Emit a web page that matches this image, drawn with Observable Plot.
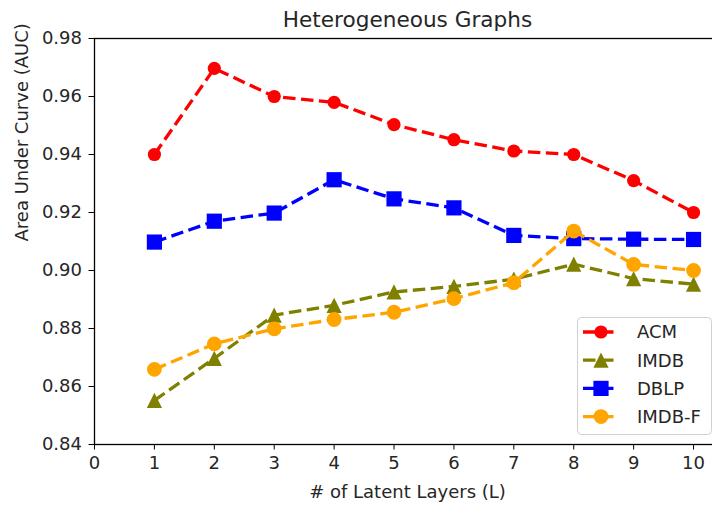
<!DOCTYPE html>
<html>
<head>
<meta charset="utf-8">
<script src="https://cdn.jsdelivr.net/npm/d3@7"></script>
<script src="https://cdn.jsdelivr.net/npm/@observablehq/plot@0.6"></script>
<style>
  html, body { margin: 0; padding: 0; overflow: hidden; background: #fff; }
  #chart { width: 720px; }
  #chart svg { display: block; max-width: none !important; width: 720px; height: 506px; }
</style>
</head>
<body>
<div id="chart"></div>
<script>
const layers = [1, 2, 3, 4, 5, 6, 7, 8, 9, 10];
const acm   = [0.940, 0.9697, 0.960, 0.958, 0.9503, 0.9451, 0.9412, 0.9400, 0.9310, 0.9200];
const imdb  = [0.8552, 0.8697, 0.8846, 0.8880, 0.8926, 0.8945, 0.8970, 0.9022, 0.8972, 0.8953];
const dblp  = [0.9098, 0.9170, 0.9198, 0.9313, 0.9247, 0.9216, 0.9121, 0.9110, 0.9108, 0.9107];
const imdbF = [0.8659, 0.8747, 0.8799, 0.8831, 0.8856, 0.8903, 0.8958, 0.9136, 0.9021, 0.9000];

const seriesNames = ["ACM", "IMDB", "DBLP", "IMDB-F"];
const seriesColors = ["#ff0000", "#808000", "#0000ff", "#ffa500"];
const xTicks = [0, 1, 2, 3, 4, 5, 6, 7, 8, 9, 10];
const yTicks = [0.84, 0.86, 0.88, 0.90, 0.92, 0.94, 0.96, 0.98];

const titleText = "Heterogeneous Graphs";
const xLabel = "# of Latent Layers (L)";
const yLabel = "Area Under Curve (AUC)";

// custom matplotlib-like symbols (half extent = r)
const triangleUp = {
  draw(ctx, size) {
    const h = Math.sqrt(size / Math.PI);
    ctx.moveTo(0, -h);
    ctx.lineTo(h, h);
    ctx.lineTo(-h, h);
    ctx.closePath();
  }
};
const squareSym = {
  draw(ctx, size) {
    const h = Math.sqrt(size / Math.PI);
    ctx.rect(-h, -h, 2 * h, 2 * h);
  }
};
const symbols = ["circle", triangleUp, squareSym, "circle"];
const radii = [6.6, 7.6, 7.6, 7.4];
const valuesList = [acm, imdb, dblp, imdbF];

const rows = [];
valuesList.forEach((vals, si) => {
  layers.forEach((L, i) => rows.push({series: seriesNames[si], L, v: vals[i]}));
});

const dash = "12.5,5.5";
const lw = 3.3;

const marks = [];
seriesNames.forEach((name, si) => {
  const d = rows.filter(r => r.series === name);
  marks.push(Plot.line(d, {x: "L", y: "v", stroke: seriesColors[si], strokeWidth: lw, strokeDasharray: dash, strokeLinecap: "butt"}));
  marks.push(Plot.dot(d, {x: "L", y: "v", fill: seriesColors[si], stroke: "none", symbol: () => symbols[si], r: radii[si]}));
});

const textColor = "#262626";

const plot = Plot.plot({
  width: 720,
  height: 506,
  marginLeft: 94,
  marginRight: 0,
  marginTop: 38,
  marginBottom: 62,
  style: {fontFamily: "DejaVu Sans", fontSize: "18px", color: textColor, background: "#fff", maxWidth: "none"},
  x: {domain: [0, 10.45]},
  y: {domain: [0.84, 0.98]},
  symbol: {type: "identity"},
  marks: [
    Plot.axisX({ticks: xTicks, tickSize: 5.5, tickPadding: 6, tickFormat: d3.format("d"), label: null, stroke: "#000"}),
    Plot.axisY({ticks: yTicks, tickSize: 5.5, tickPadding: 7, tickFormat: d3.format(".2f"), label: null, stroke: "#000"}),
    Plot.frame({stroke: "#000", strokeWidth: 1.3}),
    ...marks,
    Plot.text([titleText], {frameAnchor: "top", lineAnchor: "bottom", dy: -12, fontSize: 21.6, fill: textColor}),
    Plot.text([xLabel], {frameAnchor: "bottom", lineAnchor: "bottom", dy: 53, fontSize: 18, fill: textColor}),
    Plot.text([yLabel], {frameAnchor: "left", lineAnchor: "bottom", rotate: -90, dx: -67, fontSize: 18, fill: textColor})
  ]
});

document.getElementById("chart").appendChild(plot);

// legend (lower right, matplotlib style)
const svg = d3.select(plot);
const lg = svg.append("g").attr("font-family", "DejaVu Sans").attr("font-size", 18).attr("text-anchor", "start");
lg.append("rect")
  .attr("x", 577.5).attr("y", 317.5).attr("width", 134).attr("height", 117)
  .attr("rx", 4).attr("fill", "#fff").attr("fill-opacity", 0.8)
  .attr("stroke", "#d0d0d0").attr("stroke-width", 1);
const rowY0 = 332, rowStep = 28.2;
seriesNames.forEach((name, si) => {
  const y = rowY0 + si * rowStep;
  lg.append("line").attr("x1", 583).attr("x2", 619).attr("y1", y).attr("y2", y)
    .attr("stroke", seriesColors[si]).attr("stroke-width", lw).attr("stroke-dasharray", dash);
  const sym = symbols[si];
  if (sym === "circle") {
    lg.append("circle").attr("cx", 601).attr("cy", y).attr("r", radii[si]).attr("fill", seriesColors[si]);
  } else {
    lg.append("path").attr("transform", `translate(601,${y})`)
      .attr("d", d3.symbol(sym, Math.PI * radii[si] * radii[si])())
      .attr("fill", seriesColors[si]);
  }
  lg.append("text").attr("x", 637).attr("y", y).attr("dy", "0.35em").attr("text-anchor", "start")
    .attr("fill", textColor).text(name);
});
</script>
</body>
</html>
